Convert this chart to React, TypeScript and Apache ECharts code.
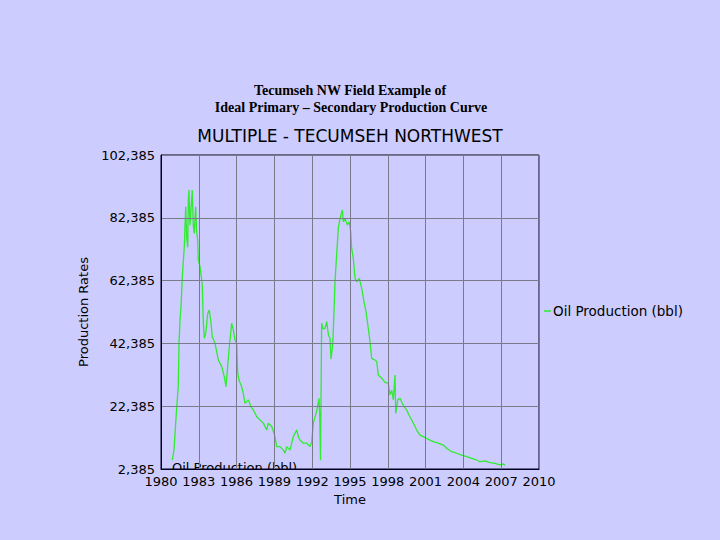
import React, { useEffect, useRef } from "react";
import * as echarts from "echarts";

const headerLines = ["Tecumseh NW Field Example of", "Ideal Primary \u2013 Secondary Production Curve"];
const chartTitle = "MULTIPLE - TECUMSEH NORTHWEST";
const seriesName = "Oil Production (bbl)";
const xAxisName = "Time";
const yAxisName = "Production Rates";
const yBase = 2385; // lowest tick label of the y axis
const yStep = 20000;

const years = [
  1980.90, 1981.03, 1981.25, 1981.37, 1981.43, 1981.51, 1981.59, 1981.69, 1981.85, 1981.96,
  1982.04, 1982.12, 1982.17, 1982.22, 1982.30, 1982.38, 1982.48, 1982.56, 1982.64, 1982.75,
  1982.83, 1982.91, 1982.96, 1983.10, 1983.23, 1983.28, 1983.36, 1983.44, 1983.55, 1983.71,
  1983.83, 1983.97, 1984.07, 1984.29, 1984.55, 1984.82, 1985.02, 1985.16, 1985.29, 1985.42,
  1985.61, 1985.74, 1985.87, 1986.01, 1986.09, 1986.19, 1986.40, 1986.53, 1986.67, 1986.93,
  1987.14, 1987.33, 1987.60, 1987.86, 1988.12, 1988.39, 1988.52, 1988.79, 1989.05, 1989.18,
  1989.44, 1989.71, 1989.84, 1989.98, 1990.24, 1990.50, 1990.77, 1990.90, 1991.03, 1991.29,
  1991.56, 1991.83, 1991.96, 1992.09, 1992.36, 1992.54, 1992.60, 1992.66, 1992.75, 1992.86,
  1993.02, 1993.15, 1993.29, 1993.41, 1993.49, 1993.63, 1993.73, 1993.81, 1993.94, 1994.07,
  1994.21, 1994.39, 1994.47, 1994.60, 1994.79, 1994.94, 1995.06, 1995.13, 1995.26, 1995.40,
  1995.53, 1995.74, 1995.93, 1996.11, 1996.27, 1996.45, 1996.59, 1996.72, 1996.98, 1997.12,
  1997.25, 1997.52, 1997.78, 1998.04, 1998.17, 1998.31, 1998.44, 1998.57, 1998.63, 1998.79,
  1998.97, 1999.15, 1999.31, 1999.50, 1999.68, 1999.90, 2000.16, 2000.29, 2000.56, 2000.82,
  2001.09, 2001.35, 2001.61, 2002.01, 2002.40, 2002.67, 2003.07, 2003.47, 2003.87, 2004.26,
  2004.66, 2005.06, 2005.32, 2005.71, 2006.11, 2006.51, 2006.90, 2007.17, 2007.30,
];

const oilProduction = [
  5200, 8400, 22200, 28600, 42400, 49800, 54100, 63600, 73200, 85900,
  76000, 73000, 88000, 91200, 80000, 85000, 91200, 80000, 77400, 85900,
  78000, 75300, 69000, 66800, 62600, 60400, 48800, 44000, 45600, 52000,
  53000, 48800, 44500, 42400, 37100, 35000, 31800, 28600, 35000, 41300,
  48800, 46600, 43500, 42400, 32900, 30700, 28600, 26500, 23300, 24400,
  22200, 21200, 19000, 18000, 17000, 14800, 17000, 15900, 12700, 9500,
  9500, 8400, 7400, 9500, 8400, 12700, 14800, 12700, 11600, 10600,
  10600, 9500, 11100, 17000, 21000, 24900, 19000, 5200, 48800, 47000,
  47200, 49300, 45000, 44000, 37400, 41900, 52500, 62000, 70500, 79000,
  82200, 84900, 81100, 82200, 80100, 81100, 77900, 72700, 69500, 63100,
  62000, 63100, 59900, 55700, 52500, 47200, 42900, 37600, 37100, 36600,
  32300, 31300, 30000, 29700, 26000, 27500, 24400, 32300, 20100, 24400,
  24900, 23300, 22200, 21200, 19600, 18000, 15900, 14800, 13200, 12700,
  12100, 11600, 11100, 10600, 10000, 9000, 7900, 7400, 6800, 6300,
  5800, 5250, 4700, 5000, 4400, 4200, 3700, 4000, 3600,
];

const BG = "#ccccff";
const GRID_COLOR = "#7a7a8a";
const LINE_COLOR = "#2fec2f";
const FONT = "DejaVu Sans";

export default function App() {
  const ref = useRef<HTMLDivElement>(null);

  useEffect(() => {
    if (!ref.current) return;
    const chart = echarts.init(ref.current, undefined, { renderer: "svg" });
    const data = years.map((y, i) => [y, oilProduction[i] - yBase]);

    chart.setOption({
      animation: false,
      backgroundColor: BG,
      textStyle: { fontFamily: FONT },
      grid: {
        left: 161,
        top: 155,
        width: 378,
        height: 314,
        show: true,
        borderColor: "#000022",
        borderWidth: 1,
        backgroundColor: "transparent",
        containLabel: false,
      },
      legend: {
        left: 544,
        top: 304,
        padding: 0,
        icon: "rect",
        itemWidth: 7,
        itemHeight: 1.5,
        itemGap: 0,
        data: [{ name: seriesName, icon: "rect", itemStyle: { color: LINE_COLOR } }],
        textStyle: { fontFamily: FONT, fontSize: 13.5, color: "#000", padding: [0, 0, 0, -3] },
      },
      xAxis: {
        type: "value",
        min: 1980,
        max: 2010,
        interval: 3,
        z: 10,
        name: xAxisName,
        nameLocation: "middle",
        nameGap: 21,
        nameTextStyle: { fontFamily: FONT, fontSize: 13, color: "#000" },
        axisLine: { show: true, lineStyle: { color: "#000022", width: 1 } },
        axisTick: { show: false },
        axisLabel: {
          fontFamily: FONT,
          fontSize: 13,
          color: "#000",
          margin: 6,
          hideOverlap: false,
          showMinLabel: true,
          showMaxLabel: true,
          formatter: (v: number) => String(v),
        },
        splitLine: { show: true, lineStyle: { color: GRID_COLOR, width: 1 } },
      },
      yAxis: {
        type: "value",
        min: 0,
        max: 100000,
        interval: yStep,
        z: 10,
        name: yAxisName,
        nameLocation: "middle",
        nameGap: 67,
        nameTextStyle: { fontFamily: FONT, fontSize: 13, color: "#000" },
        axisLine: { show: true, lineStyle: { color: "#000022", width: 1 } },
        axisTick: { show: false },
        axisLabel: {
          fontFamily: FONT,
          fontSize: 13,
          color: "#000",
          margin: 6,
          formatter: (v: number) => (v + yBase).toLocaleString("en-US"),
        },
        splitLine: { show: true, lineStyle: { color: GRID_COLOR, width: 1 } },
      },
      graphic: [
        {
          type: "text",
          x: 350,
          y: 90,
          style: {
            text: headerLines[0],
            fill: "#000",
            font: 'bold 14px "Liberation Serif"',
            textAlign: "center",
            textVerticalAlign: "middle",
            align: "center",
            verticalAlign: "middle",
          },
        },
        {
          type: "text",
          x: 351,
          y: 107,
          style: {
            text: headerLines[1],
            fill: "#000",
            font: 'bold 14px "Liberation Serif"',
            textAlign: "center",
            textVerticalAlign: "middle",
            align: "center",
            verticalAlign: "middle",
          },
        },
        {
          type: "text",
          x: 350,
          y: 136,
          style: {
            text: chartTitle,
            fill: "#000",
            font: '17px "DejaVu Sans"',
            textAlign: "center",
            textVerticalAlign: "middle",
            align: "center",
            verticalAlign: "middle",
          },
        },
        {
          type: "text",
          x: 172,
          y: 474,
          z: 2,
          style: {
            text: seriesName,
            fill: "#000",
            font: '13px "DejaVu Sans"',
            textAlign: "left",
            textVerticalAlign: "bottom",
            align: "left",
            verticalAlign: "bottom",
          },
        },
        {
          type: "rect",
          z: 3,
          shape: { x: 165, y: 470, width: 150, height: 5 },
          style: { fill: BG },
        },
      ],
      series: [
        {
          name: seriesName,
          type: "line",
          data,
          showSymbol: false,
          symbol: "none",
          clip: true,
          lineStyle: { color: LINE_COLOR, width: 1.3 },
          itemStyle: { color: LINE_COLOR },
        },
      ],
    });

    return () => chart.dispose();
  }, []);

  return (
    <div
      ref={ref}
      style={{ position: "fixed", left: 0, top: 0, width: 720, height: 540 }}
    />
  );
}
